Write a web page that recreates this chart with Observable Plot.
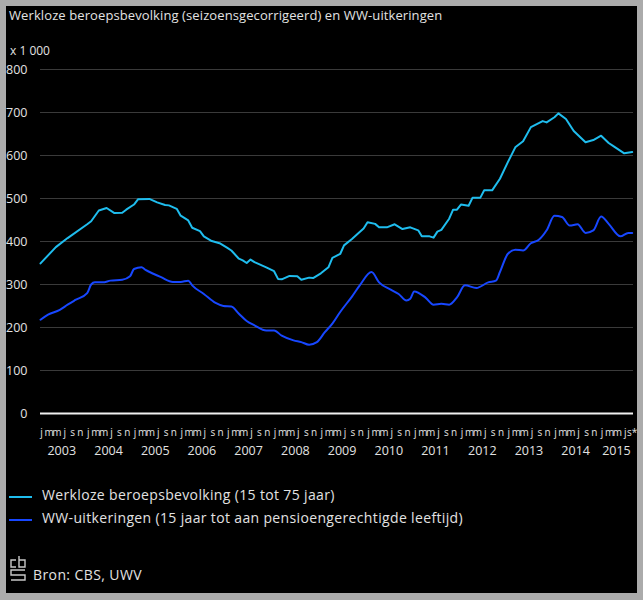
<!DOCTYPE html>
<html>
<head>
<meta charset="utf-8">
<script src="https://cdn.jsdelivr.net/npm/d3@7"></script>
<script src="https://cdn.jsdelivr.net/npm/@observablehq/plot@0.6"></script>
<style>
  html, body { margin: 0; padding: 0; background: #ababab; }
  #wrap { position: relative; width: 643px; height: 600px; background: #ababab; overflow: hidden; }
  #panel { position: absolute; left: 6px; top: 6px; width: 631px; height: 587px; background: #000; }
  .t { position: absolute; color: #e2e2e2; font-family: "Open Sans", sans-serif; white-space: nowrap; }
  #chart { position: absolute; left: 6px; top: 0px; }
  .sw { position: absolute; height: 2px; width: 23px; }
</style>
</head>
<body>
<div id="wrap">
  <div id="panel"></div>
  <div class="t" id="title" style="left:9px; top:6px; font-size:13px; letter-spacing:0.1px;">Werkloze beroepsbevolking (seizoensgecorrigeerd) en WW-uitkeringen</div>
  <div class="t" id="unit" style="left:10px; top:42px; font-size:12px;">x 1 000</div>
  <div id="chart"></div>
  <div class="sw" style="left:9px; top:496px; background:#1fbdee;"></div>
  <div class="t" style="left:42px; top:485px; font-size:14px; letter-spacing:0.35px;">Werkloze beroepsbevolking (15 tot 75 jaar)</div>
  <div class="sw" style="left:9px; top:519px; background:#1747ff;"></div>
  <div class="t" style="left:42px; top:508px; font-size:14px; letter-spacing:0.35px;">WW-uitkeringen (15 jaar tot aan pensioengerechtigde leeftijd)</div>
  <svg style="position:absolute; left:9px; top:555px;" width="20" height="27" viewBox="0 0 20 27">
    <g fill="none" stroke="#c8c8c8" stroke-width="1.4">
      <path d="M7 5 H2 V12 H7"/>
      <path d="M10 1 V12 H16 V5 H10"/>
      <path d="M16 15 H2 V20 H16 V25 H2"/>
    </g>
  </svg>
  <div class="t" style="left:33px; top:565px; font-size:14px; letter-spacing:0.4px;">Bron: CBS, UWV</div>
</div>
<script>
// month index counted from January 2003
const werklozeMonth = [0,4,7,12,13,15,17,19,21,22,24,25,28,30,32,33,35,36,38,39,41,42,44,46,48,49,51,52,53,54,55,56,58,60,61,62,64,66,67,69,70,72,74,75,77,78,80,81,83,84,86,87,89,91,93,95,97,98,100,101,102,103,105,106,107,108,110,111,113,114,116,118,120,122,124,126,129,130,132,133,135,137,140,142,144,146,147,150,152];
const werklozeValue = [349,387,408,440,447,472,478,466,467,474,486,498,499,491,485,484,476,460,449,432,424,412,401,396,385,379,360,356,350,358,352,348,340,331,313,312,320,319,311,316,315,326,340,362,371,391,406,414,430,445,441,433,433,440,429,433,426,412,412,409,423,427,453,474,474,486,483,502,502,519,519,546,584,619,633,666,680,677,689,698,685,657,631,636,646,629,623,605,608];

const wwMonth = [0,2,5,7,9,12,13,14,16,18,21,23,24,26,27,29,31,34,36,38,39,42,45,47,49,51,53,55,58,60,62,65,67,69,71,73,75,77,80,82,85,87,90,92,94,95,96,99,101,103,105,107,109,112,115,117,118,120,122,124,126,128,130,132,134,136,138,140,142,144,146,149,151,152];
const wwValue = [218,230,241,253,264,280,300,305,305,309,311,319,336,340,334,325,317,306,306,309,298,278,257,250,249,232,215,205,193,193,181,170,166,160,166,189,209,236,272,298,329,305,288,278,263,267,284,269,253,255,253,270,298,292,305,309,329,371,381,379,396,404,426,460,457,437,440,420,426,458,441,412,420,420];

const monthInitials = ["j","m","m","j","s","n"]; // every second month
const years = [2003,2004,2005,2006,2007,2008,2009,2010,2011,2012,2013,2014,2015];
const yTicks = [0,100,200,300,400,500,600,700,800];
const lastMonth = 152; // september 2015 (voorlopig)
const provisionalMark = "*";
const series1 = "Werkloze beroepsbevolking (15 tot 75 jaar)";
const series2 = "WW-uitkeringen (15 jaar tot aan pensioengerechtigde leeftijd)";

const md = m => new Date(2003, m, 1);
const data = [
  ...werklozeMonth.map((m, i) => ({date: md(m), value: werklozeValue[i], s: series1})),
  ...wwMonth.map((m, i) => ({date: md(m), value: wwValue[i], s: series2}))
];
const monthTicks = d3.range(0, lastMonth + 1, 2).map(m => ({
  date: md(m),
  label: monthInitials[(m % 12) / 2] + (m === lastMonth ? provisionalMark : ""),
  last: m === lastMonth
}));
const yearTicks = years.map(y => {
  const last = Math.min(11, lastMonth - (y - 2003) * 12);
  return {date: new Date(y, last / 2, last % 2 ? 16 : 1), label: String(y)};
});

const col = {[series1]: "#1fbdee", [series2]: "#1747ff"};
const font = "Open Sans, sans-serif";

const chart = Plot.plot({
  width: 631,
  height: 460,
  marginTop: 69,
  marginBottom: 47,
  marginLeft: 34,
  marginRight: 4,
  style: {background: "transparent", fontFamily: font, color: "#e2e2e2"},
  x: {type: "time", domain: [md(0), md(lastMonth)], range: [34, 625.7], axis: null},
  y: {domain: [0, 800], axis: null},
  marks: [
    Plot.ruleY(yTicks.filter(d => d > 0), {stroke: "#3a3a3a", strokeWidth: 1}),
    Plot.text(yTicks, {x: md(0), y: d => d, text: d => String(d), frameAnchor: "left", textAnchor: "end", dx: -13, fontSize: 12.5, fill: "#e2e2e2"}),
    Plot.line(data.filter(d => d.s === series2), {x: "date", y: "value", stroke: col[series2], strokeWidth: 2, curve: "monotone-x"}),
    Plot.line(data.filter(d => d.s === series1), {x: "date", y: "value", stroke: col[series1], strokeWidth: 2, curve: "linear"}),
    Plot.ruleY([0], {stroke: "#f0f0f0", strokeWidth: 2}),
    Plot.text(monthTicks.filter(d => !d.last), {x: "date", text: "label", frameAnchor: "bottom", lineAnchor: "bottom", dy: 22, dx: 1, fontSize: 10, fill: "#e2e2e2"}),
    Plot.text(monthTicks.filter(d => d.last), {x: "date", text: "label", frameAnchor: "bottom", lineAnchor: "bottom", textAnchor: "end", dy: 22, dx: 5, fontSize: 10, fill: "#e2e2e2"}),
    Plot.text(yearTicks, {x: "date", text: "label", frameAnchor: "bottom", lineAnchor: "bottom", dy: 41, fontSize: 12.5, fill: "#e2e2e2"})
  ]
});
document.getElementById("chart").appendChild(chart);
</script>
</body>
</html>
